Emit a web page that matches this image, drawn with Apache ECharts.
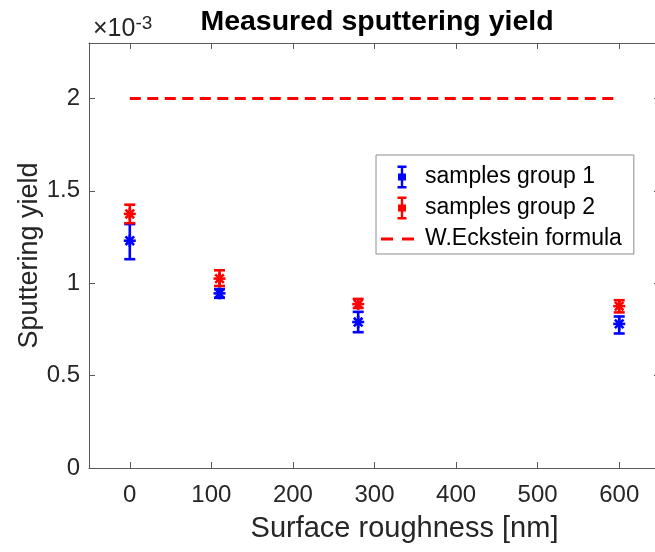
<!DOCTYPE html>
<html>
<head>
<meta charset="utf-8">
<script src="https://cdn.jsdelivr.net/npm/echarts@6/dist/echarts.min.js"></script>
<style>
html,body{margin:0;padding:0;background:#fff;}
#chart{width:655px;height:552px;}
</style>
</head>
<body>
<div id="chart"></div>
<script>
// ---- data ----
const roughness = [0, 110, 280, 600];             // nm
const group1Mean = [1.23e-3, 0.945e-3, 0.790e-3, 0.780e-3];
const group1Low  = [1.13e-3, 0.921e-3, 0.735e-3, 0.728e-3];
const group1High = [1.32e-3, 0.968e-3, 0.845e-3, 0.820e-3];
const group2Mean = [1.375e-3, 1.025e-3, 0.887e-3, 0.876e-3];
const group2Low  = [1.325e-3, 0.985e-3, 0.866e-3, 0.842e-3];
const group2High = [1.425e-3, 1.070e-3, 0.915e-3, 0.908e-3];
const ecksteinX = [0, 600];
const ecksteinY = [2e-3, 2e-3];
const xTicks = [0, 100, 200, 300, 400, 500, 600];
const yTicks = [0, 0.5e-3, 1e-3, 1.5e-3, 2e-3];
const seriesNames = ['samples group 1', 'samples group 2', 'W.Eckstein formula'];

const FONT = '"Liberation Sans", Arial, Helvetica, sans-serif';
const AXIS_COLOR = '#595959';
const TEXT_COLOR = '#262626';

function rows(x, m, lo, hi) {
  return x.map((v, i) => [v, m[i], lo[i], hi[i]]);
}

function errRender(color) {
  return function (params, api) {
    const x = api.value(0);
    const pm = api.coord([x, api.value(1)]);
    const pl = api.coord([x, api.value(2)]);
    const ph = api.coord([x, api.value(3)]);
    const cw = 5.5, r = 6, d = 4.3;
    const st = { stroke: color, lineWidth: 2.6, fill: null };
    const L = (x1, y1, x2, y2) => ({ type: 'line', shape: { x1, y1, x2, y2 }, style: st });
    return {
      type: 'group',
      children: [
        L(pl[0], pl[1], ph[0], ph[1]),
        L(pl[0] - cw, pl[1], pl[0] + cw, pl[1]),
        L(ph[0] - cw, ph[1], ph[0] + cw, ph[1]),
        L(pm[0] - r, pm[1], pm[0] + r, pm[1]),
        L(pm[0], pm[1] - r, pm[0], pm[1] + r),
        L(pm[0] - d, pm[1] - d, pm[0] + d, pm[1] + d),
        L(pm[0] - d, pm[1] + d, pm[0] + d, pm[1] - d)
      ]
    };
  };
}

function dashRender(params, api) {
  const p0 = api.coord([api.value(0), api.value(1)]);
  const p1 = api.coord([api.value(2), api.value(3)]);
  return {
    type: 'line',
    shape: { x1: p0[0], y1: p0[1], x2: p1[0], y2: p1[1] },
    style: { stroke: '#ff0000', lineWidth: 3, lineDash: [11, 6.5], fill: null }
  };
}

// legend icons (39 x 26 box)
const ANCH = 'M0,0h0.01v0.01h-0.01z M39,26h-0.01v-0.01h0.01z ';
const errIcon = 'path://' + ANCH +
  'M16.5,1.5h9v2.4h-9z M16.5,22.1h9v2.4h-9z M19.8,1.5h2.4v23h-2.4z M17,9.5h8v7h-8z';
const dashIcon = 'path://' + ANCH + 'M0,11.5h12v3h-12z M21,11.5h12v3h-12z';

const chart = echarts.init(document.getElementById('chart'), null, { renderer: 'canvas' });

const fmtY = v => String(Math.round(v * 1e4) / 10);

const axisCommon = {
  axisLine: { show: true, onZero: false, lineStyle: { color: AXIS_COLOR, width: 1 } },
  splitLine: { show: false }
};
const tickStyle = vals => ({ show: true, inside: true, length: 6, lineStyle: { color: AXIS_COLOR }, customValues: vals });

chart.setOption({
  animation: false,
  backgroundColor: '#ffffff',
  textStyle: { fontFamily: FONT },
  title: {
    text: 'Measured sputtering yield',
    left: 372, top: 3, textAlign: 'center',
    textStyle: { fontFamily: FONT, fontSize: 28.5, fontWeight: 'bold', color: '#000' }
  },
  graphic: [{
    type: 'text', left: 93, top: 14,
    style: {
      text: '×10{s|-3}',
      font: '25px ' + FONT, fill: TEXT_COLOR,
      rich: { s: { fontSize: 19, fontFamily: FONT, fill: TEXT_COLOR, verticalAlign: 'top', padding: [0, 0, 11, 0] } }
    }
  }],
  legend: {
    orient: 'vertical', left: 376, top: 155,
    padding: [9, 12, 2, 5],
    itemWidth: 39, itemHeight: 26, itemGap: 5,
    backgroundColor: '#fff', borderColor: '#8c8c8c', borderWidth: 1,
    textStyle: { fontFamily: FONT, fontSize: 23, color: '#000' },
    data: [
      { name: seriesNames[0], icon: errIcon },
      { name: seriesNames[1], icon: errIcon },
      { name: seriesNames[2], icon: dashIcon }
    ]
  },
  grid: { left: 89, top: 43, width: 571, height: 425, containLabel: false, outerBoundsMode: 'none' },
  xAxis: [Object.assign({
    type: 'value', min: -50, max: 650, interval: 50, position: 'bottom',
    name: 'Surface roughness [nm]', nameLocation: 'middle', nameGap: 46, nameMoveOverlap: false,
    nameTextStyle: { fontFamily: FONT, fontSize: 29, color: TEXT_COLOR, padding: [0, 0, 0, 60] },
    axisLabel: { fontFamily: FONT, fontSize: 24, color: TEXT_COLOR, margin: 15, customValues: xTicks },
    axisTick: tickStyle(xTicks)
  }, axisCommon), Object.assign({
    type: 'value', min: -50, max: 650, interval: 50, position: 'top',
    axisLabel: { show: false },
    axisTick: tickStyle(xTicks)
  }, axisCommon)],
  yAxis: [Object.assign({
    type: 'value', min: 0, max: 2.3e-3, interval: 0.5e-3, position: 'left',
    name: 'Sputtering yield', nameLocation: 'middle', nameGap: 46, nameMoveOverlap: false,
    nameTextStyle: { fontFamily: FONT, fontSize: 27, color: TEXT_COLOR },
    axisLabel: { fontFamily: FONT, fontSize: 24, color: TEXT_COLOR, margin: 9, formatter: fmtY, customValues: yTicks },
    axisTick: tickStyle(yTicks)
  }, axisCommon), Object.assign({
    type: 'value', min: 0, max: 2.3e-3, interval: 0.5e-3, position: 'right',
    axisLabel: { show: false },
    axisTick: tickStyle(yTicks)
  }, axisCommon)],
  series: [
    {
      name: seriesNames[2], type: 'custom', itemStyle: { color: '#ff0000' },
      renderItem: dashRender,
      encode: { x: [0, 2], y: [1, 3] },
      data: [[ecksteinX[0], ecksteinY[0], ecksteinX[1], ecksteinY[1]]],
      z: 2
    },
    {
      name: seriesNames[0], type: 'custom', itemStyle: { color: '#0000ff' },
      renderItem: errRender('#0000ff'),
      encode: { x: 0, y: [1, 2, 3] },
      data: rows(roughness, group1Mean, group1Low, group1High),
      z: 3
    },
    {
      name: seriesNames[1], type: 'custom', itemStyle: { color: '#ff0000' },
      renderItem: errRender('#ff0000'),
      encode: { x: 0, y: [1, 2, 3] },
      data: rows(roughness, group2Mean, group2Low, group2High),
      z: 4
    }
  ]
});
</script>
</body>
</html>
